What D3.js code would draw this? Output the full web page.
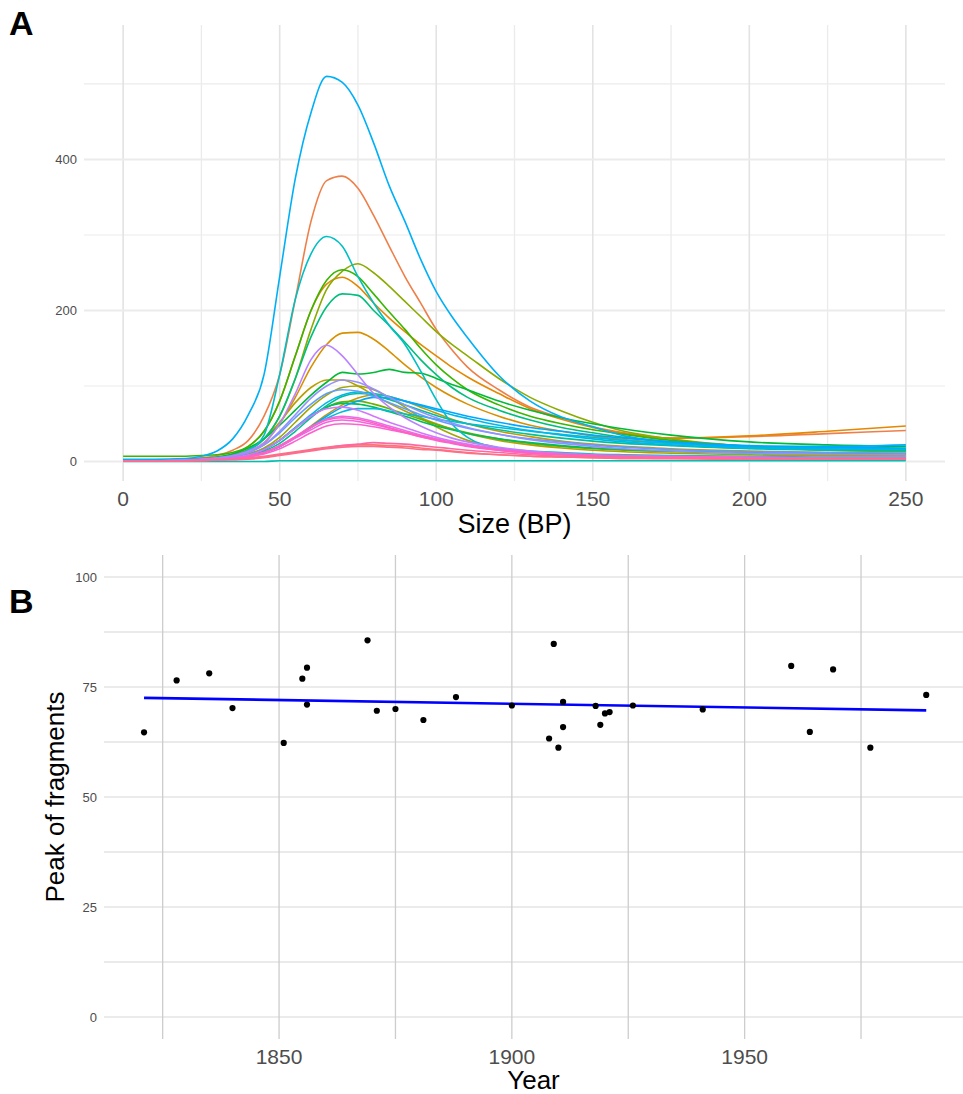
<!DOCTYPE html>
<html>
<head>
<meta charset="utf-8">
<script src="https://cdn.jsdelivr.net/npm/d3@7"></script>
<style>
  html, body { margin: 0; padding: 0; background: #fff; }
  svg { display: block; font-family: "Liberation Sans", Arial, Helvetica, sans-serif; }
</style>
</head>
<body>
<svg id="chart" width="963" height="1094"></svg>
<script>
// ---------------- DATA ----------------
// Panel A: fragment size grid (BP) and counts per sample
const sizes = [0,10,20,25,30,35,40,45,50,55,60,65,70,75,80,85,90,95,100,105,110,120,130,140,150,160,175,200,225,250];
const sizeTicks = [0, 50, 100, 150, 200, 250];
const countTicks = [0, 200, 400];

const sample01 = [1,1,1,2,2,3,5,7,10,13,16,19,21,22,22,21,20,18,16,14,12,9,7,6,5,4,4,3,3,3];
const sample02 = [2,2,3,5,8,15,28,60,115,215,318,372,378,362,326,285,245,210,175,148,125,95,72,58,46,38,31,33,37,41];
const sample03 = [2,2,3,4,6,10,20,40,80,140,200,235,244,232,210,190,172,155,140,125,112,90,70,56,45,37,31,34,40,47];
const sample04 = [1,1,2,3,4,6,12,24,50,85,125,155,170,171,162,146,128,112,98,86,76,60,48,40,34,29,24,19,16,15];
const sample05 = [1,1,1,2,3,4,7,12,20,32,47,62,75,84,88,86,80,72,64,56,50,40,33,27,23,20,17,14,12,11];
const sample06 = [1,1,2,3,5,9,16,30,52,78,98,108,108,100,88,77,67,58,50,43,37,28,22,18,15,13,11,9,8,8];
const sample07 = [1,1,1,2,3,5,10,18,32,52,72,88,98,100,95,85,72,58,46,36,28,18,12,9,7,6,5,4,4,4];
const sample08 = [2,2,2,3,5,8,15,30,60,110,175,228,252,262,250,232,212,192,172,155,140,110,85,67,52,40,30,20,15,13];
const sample09 = [1,1,2,2,3,5,9,16,28,44,60,72,79,80,76,70,63,56,49,43,38,30,24,20,17,15,13,11,10,10];
const sample10 = [7,7,7,8,9,12,20,40,80,140,200,240,254,245,222,198,175,150,128,110,95,75,60,50,42,36,28,20,16,15];
const sample11 = [2,2,3,4,6,10,18,30,48,68,88,105,118,116,118,122,118,117,110,102,95,80,68,58,50,43,35,26,22,20];
const sample12 = [1,1,2,2,3,5,9,16,28,45,60,72,77,76,72,66,60,53,47,42,37,30,25,21,18,16,14,12,11,10];
const sample13 = [1,1,2,3,5,8,15,30,60,110,165,205,222,220,200,180,158,135,115,98,85,68,55,45,38,32,26,20,17,15];
const sample14 = [1,1,1,2,3,5,8,14,24,40,58,74,86,90,88,82,75,68,61,55,50,42,36,31,27,24,21,17,15,14];
const sample15 = [0,0,0,0,0,0,0,0,1,1,1,1,1,1,1,1,1,1,1,1,1,1,1,1,1,1,1,1,1,1];
const sample16 = [1,1,2,3,5,8,15,35,115,215,275,298,285,245,210,180,155,120,82,50,32,18,14,12,10,9,8,7,6,6];
const sample17 = [1,1,1,2,3,4,7,12,20,32,45,57,66,70,70,67,63,60,56,53,50,45,40,36,32,28,24,20,18,17];
const sample18 = [1,1,2,2,3,5,9,16,28,45,62,78,88,92,90,86,80,74,68,62,57,48,41,35,30,26,22,18,16,16];
const sample19 = [3,3,4,7,14,30,62,115,245,375,462,510,502,472,422,365,318,268,225,192,164,114,80,59,46,34,26,20,20,22];
const sample20 = [1,1,1,2,3,4,7,12,20,32,46,60,72,80,85,84,80,75,70,65,60,52,45,40,35,31,26,21,19,18];
const sample21 = [1,1,2,3,4,7,12,22,38,58,76,90,95,93,86,78,70,62,55,49,44,36,30,26,22,19,16,13,12,11];
const sample22 = [1,1,2,3,4,7,12,22,40,62,84,100,108,105,96,85,75,66,58,51,45,36,29,24,20,17,14,11,10,9];
const sample23 = [1,1,2,3,5,8,14,25,50,90,135,154,140,115,90,72,58,47,38,31,26,19,14,11,9,8,7,6,5,5];
const sample24 = [1,1,1,2,3,5,9,16,28,44,60,70,72,68,60,52,45,38,32,27,23,17,13,10,8,7,6,5,4,4];
const sample25 = [1,1,1,2,3,4,7,12,21,33,46,56,60,58,53,47,41,35,30,25,21,16,12,10,8,7,6,5,4,4];
const sample26 = [1,1,1,2,3,4,7,12,20,31,42,52,55,53,49,44,38,33,28,24,20,15,11,9,8,7,6,5,4,4];
const sample27 = [1,1,1,2,2,4,6,10,17,27,38,47,50,49,46,42,38,33,29,25,21,16,12,10,8,7,6,5,4,4];
const sample28 = [1,1,1,2,3,4,7,12,21,33,45,55,58,56,51,45,39,34,29,25,21,15,11,9,8,7,6,5,5,5];
const sample29 = [1,1,1,1,2,3,4,6,9,12,15,18,21,23,25,24,23,21,19,17,15,12,9,7,6,5,4,4,3,3];
const sample30 = [1,1,1,1,2,2,3,5,8,11,14,17,19,20,20,19,18,16,15,13,11,9,7,6,5,4,4,3,3,3];

const samples = [sample01,sample02,sample03,sample04,sample05,sample06,sample07,sample08,sample09,sample10,
                 sample11,sample12,sample13,sample14,sample15,sample16,sample17,sample18,sample19,sample20,
                 sample21,sample22,sample23,sample24,sample25,sample26,sample27,sample28,sample29,sample30];

// Panel B: year vs peak of fragment size
const years = [1821,1828,1835,1840,1851,1855,1856,1856,1869,1871,1875,1881,1888,1900,1908,1909,1910,1911,1911,1918,1919,1920,1921,1926,1941,1960,1964,1969,1977,1989];
const peaks = [64.7,76.5,78.1,70.2,62.3,76.9,79.4,71.0,85.6,69.6,70.0,67.5,72.7,70.8,63.3,84.8,61.2,71.6,65.9,70.7,66.4,69.0,69.3,70.8,69.9,79.8,64.8,79.0,61.2,73.2];
const yearTicks = [1850, 1900, 1950];
const yearMinor = [1825, 1875, 1925, 1975];
const peakTicks = [0, 25, 50, 75, 100];
const peakMinor = [12.5, 37.5, 62.5, 87.5];

// ---------------- HELPERS ----------------
// R-style hcl (polar CIE-Luv) -> sRGB hex, as used by ggplot's default hue palette
function hclLuv(h, c, l) {
  const hr = h * Math.PI / 180;
  const u = c * Math.cos(hr), v = c * Math.sin(hr);
  const Xn = 95.047, Yn = 100, Zn = 108.883;
  const den = Xn + 15 * Yn + 3 * Zn;
  const un = 4 * Xn / den, vn = 9 * Yn / den;
  const Y = l > 8 ? Yn * Math.pow((l + 16) / 116, 3) : Yn * l / 903.3;
  const up = u / (13 * l) + un, vp = v / (13 * l) + vn;
  const X = Y * 9 * up / (4 * vp);
  const Z = Y * (12 - 3 * up - 20 * vp) / (4 * vp);
  const x = X / 100, y = Y / 100, z = Z / 100;
  const lin = [
    3.240479 * x - 1.537150 * y - 0.498535 * z,
    -0.969256 * x + 1.875992 * y + 0.041556 * z,
    0.055648 * x - 0.204043 * y + 1.057311 * z
  ];
  const g = lin.map(t => {
    const s = t <= 0.0031308 ? 12.92 * t : 1.055 * Math.pow(t, 1 / 2.4) - 0.055;
    return Math.round(Math.max(0, Math.min(1, s)) * 255);
  });
  return d3.rgb(g[0], g[1], g[2]).formatHex();
}
const n = samples.length;
const palette = d3.range(n).map(i => hclLuv(15 + 360 * i / n, 100, 65));

const svg = d3.select("#chart");
const tickGrey = "#4d4d4d";

// ---------------- PANEL A ----------------
const xA = d3.scaleLinear().domain([-12.5, 262.5]).range([84, 945]);
const yA = d3.scaleLinear().domain([-25.8, 578.1]).range([481, 25]);
const gA = svg.append("g");

const xMinorA = d3.range(25, 250, 50);
const yMinorA = [100, 300, 500];
gA.selectAll(".vminA").data(xMinorA).join("line")
  .attr("x1", d => xA(d)).attr("x2", d => xA(d)).attr("y1", 25).attr("y2", 481)
  .attr("stroke", "#ebebeb").attr("stroke-width", 1.3);
gA.selectAll(".hminA").data(yMinorA).join("line")
  .attr("x1", 84).attr("x2", 945).attr("y1", d => yA(d)).attr("y2", d => yA(d))
  .attr("stroke", "#ebebeb").attr("stroke-width", 1.2);
gA.selectAll(".vmajA").data(sizeTicks).join("line")
  .attr("x1", d => xA(d)).attr("x2", d => xA(d)).attr("y1", 25).attr("y2", 481)
  .attr("stroke", "#e3e3e3").attr("stroke-width", 1.6);
gA.selectAll(".hmajA").data(countTicks).join("line")
  .attr("x1", 84).attr("x2", 945).attr("y1", d => yA(d)).attr("y2", d => yA(d))
  .attr("stroke", "#ebebeb").attr("stroke-width", 2);

const lineA = d3.line()
  .x((d, i) => xA(sizes[i]))
  .y(d => yA(d))
  .curve(d3.curveMonotoneX);
gA.selectAll(".series").data(samples).join("path")
  .attr("d", d => lineA(d))
  .attr("fill", "none")
  .attr("stroke", (d, i) => palette[i])
  .attr("stroke-width", 1.6)
  .attr("stroke-linejoin", "round");

// axes text A
gA.selectAll(".ytA").data(countTicks).join("text")
  .attr("x", 77).attr("y", d => yA(d)).attr("dy", "0.35em")
  .attr("text-anchor", "end").attr("font-size", 13).attr("fill", tickGrey)
  .text(d => d);
gA.selectAll(".xtA").data(sizeTicks).join("text")
  .attr("x", d => xA(d)).attr("y", 506)
  .attr("text-anchor", "middle").attr("font-size", 21).attr("fill", tickGrey)
  .text(d => d);
gA.append("text").attr("x", (84 + 945) / 2).attr("y", 533)
  .attr("text-anchor", "middle").attr("font-size", 27).attr("fill", "#000")
  .text("Size (BP)");
svg.append("text").attr("x", 9).attr("y", 35)
  .attr("font-size", 34).attr("font-weight", "bold").attr("fill", "#000").text("A");

// ---------------- PANEL B ----------------
const yrExt = d3.extent(years);
const xB = d3.scaleLinear().domain([1812.4, 1996.9]).range([104, 963]);
const yB = d3.scaleLinear().domain([-5, 105]).range([1039, 555]);
const gB = svg.append("g");

gB.selectAll(".hminB").data(peakMinor).join("line")
  .attr("x1", 104).attr("x2", 963).attr("y1", d => yB(d)).attr("y2", d => yB(d))
  .attr("stroke", "#d6d6d6").attr("stroke-width", 1.1);
gB.selectAll(".hmajB").data(peakTicks).join("line")
  .attr("x1", 104).attr("x2", 963).attr("y1", d => yB(d)).attr("y2", d => yB(d))
  .attr("stroke", "#ebebeb").attr("stroke-width", 2);
gB.selectAll(".vB").data(yearMinor.concat(yearTicks)).join("line")
  .attr("x1", d => xB(d)).attr("x2", d => xB(d)).attr("y1", 555).attr("y2", 1039)
  .attr("stroke", "#cdcdcd").attr("stroke-width", 1.3);

// least-squares fit line (geom_smooth method = "lm")
const mx = d3.mean(years), my = d3.mean(peaks);
const sxy = d3.sum(years, (x, i) => (x - mx) * (peaks[i] - my));
const sxx = d3.sum(years, x => (x - mx) * (x - mx));
const slope = sxy / sxx, intercept = my - slope * mx;
gB.append("line")
  .attr("x1", xB(yrExt[0])).attr("x2", xB(yrExt[1]))
  .attr("y1", yB(intercept + slope * yrExt[0])).attr("y2", yB(intercept + slope * yrExt[1]))
  .attr("stroke", "#0000ff").attr("stroke-width", 2.6);

gB.selectAll(".pt").data(years).join("circle")
  .attr("cx", d => xB(d)).attr("cy", (d, i) => yB(peaks[i]))
  .attr("r", 3.1).attr("fill", "#000");

gB.selectAll(".ytB").data(peakTicks).join("text")
  .attr("x", 97).attr("y", d => yB(d)).attr("dy", "0.35em")
  .attr("text-anchor", "end").attr("font-size", 13).attr("fill", tickGrey)
  .text(d => d);
gB.selectAll(".xtB").data(yearTicks).join("text")
  .attr("x", d => xB(d)).attr("y", 1064)
  .attr("text-anchor", "middle").attr("font-size", 21).attr("fill", tickGrey)
  .text(d => d);
gB.append("text").attr("x", (104 + 963) / 2).attr("y", 1089)
  .attr("text-anchor", "middle").attr("font-size", 26).attr("fill", "#000")
  .text("Year");
gB.append("text")
  .attr("transform", `translate(64, ${(555 + 1039) / 2}) rotate(-90)`)
  .attr("text-anchor", "middle").attr("font-size", 26).attr("fill", "#000")
  .text("Peak of fragments");
svg.append("text").attr("x", 9).attr("y", 613)
  .attr("font-size", 34).attr("font-weight", "bold").attr("fill", "#000").text("B");
</script>
</body>
</html>
